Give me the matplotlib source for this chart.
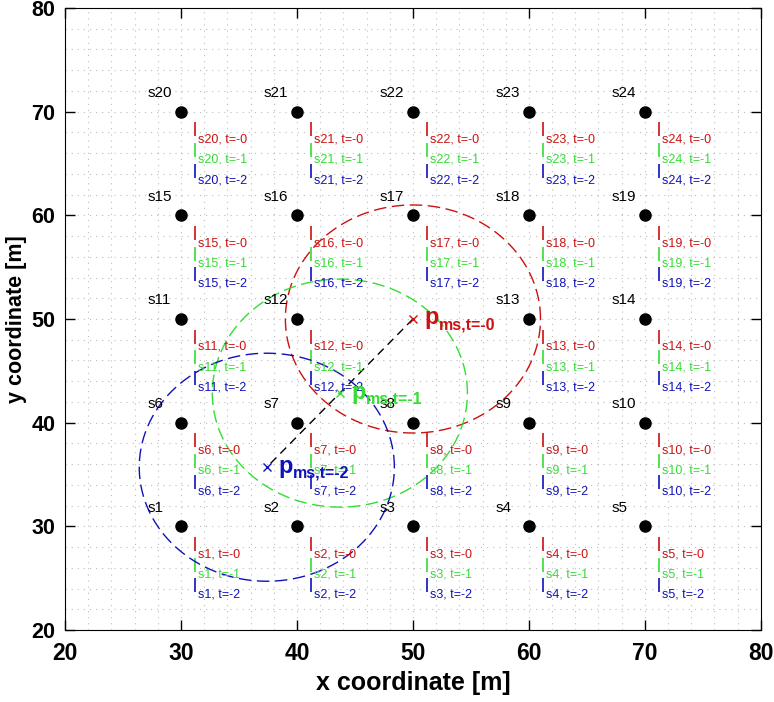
import matplotlib
matplotlib.use("Agg")
import matplotlib.pyplot as plt
import numpy as np

plt.rcParams['font.family'] = ['Liberation Sans', 'DejaVu Sans']

# Sensor data
sensor_names = ['s%d' % i for i in range(1, 25)]
sensor_x = [30, 40, 50, 60, 70,
            30, 40, 50, 60, 70,
            30, 40, 60, 70,
            30, 40, 50, 60, 70,
            30, 40, 50, 60, 70]
sensor_y = [30, 30, 30, 30, 30,
            40, 40, 40, 40, 40,
            50, 50, 50, 50,
            60, 60, 60, 60, 60,
            70, 70, 70, 70, 70]

# Estimated positions at time steps
time_steps = ['0', '1', '2']
est_x = [50.0, 43.7, 37.4]
est_y = [50.0, 42.85, 35.7]
est_radius = [11.0, 11.0, 11.0]
colors = ['#cc1111', '#33dd33', '#1111bb']

fig = plt.figure(figsize=(7.74, 7.02), dpi=100)
ax = fig.add_axes([0.084, 0.1026, 0.899, 0.886])

ax.set_xlim(20, 80)
ax.set_ylim(20, 80)
ax.set_xticks(np.arange(20, 81, 10))
ax.set_yticks(np.arange(20, 81, 10))
ax.set_xticks(np.arange(20, 81, 2), minor=True)
ax.set_yticks(np.arange(20, 81, 2), minor=True)
ax.grid(which='both', linestyle=(0, (1, 4.5)), color='#bcbcbc', linewidth=0.8)
ax.set_axisbelow(True)
ax.tick_params(which='major', direction='in', length=7, width=1, top=True, right=True)
ax.tick_params(axis='x', which='major', labelsize=16.5, pad=9)
ax.tick_params(axis='y', which='major', labelsize=15.5, pad=7)
ax.tick_params(which='minor', length=0)
for lab in ax.get_xticklabels() + ax.get_yticklabels():
    lab.set_fontweight('bold')

# Sensors
ax.plot(sensor_x, sensor_y, 'o', color='black', markersize=8, zorder=5)
for name, sx, sy in zip(sensor_names, sensor_x, sensor_y):
    ax.text(sx - 2.9, sy + 1.8, name, fontsize=11, ha='left', va='center', color='black')
    for k, (t, c) in enumerate(zip(time_steps, colors)):
        ax.plot([sx + 1.25], [sy - 1.7 - 2.0 * k], marker='|', color=c,
                markersize=10, markeredgewidth=1.2)
        ax.text(sx + 1.5, sy - 2.7 - 1.95 * k, '%s, t=-%s' % (name, t), fontsize=9,
                color=c, ha='left', va='center')

# Path line
ax.plot(est_x, est_y, linestyle=(0, (6, 4)), color='black', linewidth=1)

# Circles and estimates
theta = np.linspace(0, 2 * np.pi, 400)
for ex, ey, r, c, t in zip(est_x, est_y, est_radius, colors, time_steps):
    ax.plot(ex + r * np.cos(theta), ey + r * np.sin(theta), linestyle=(0, (9, 4)),
            color=c, linewidth=1)
    ax.plot([ex], [ey], marker='x', color=c, markersize=6, markeredgewidth=1)
    ax.text(ex + 1.0, ey + 0.1, 'p', color=c, fontsize=17, ha='left', va='center',
            fontweight='bold')
    ax.annotate('ms,t=-%s' % t, xy=(ex + 1.0, ey + 0.1), xytext=(10.5, -5),
                textcoords='offset points', color=c, fontsize=11.5, ha='left',
                va='center', fontweight='bold')

ax.set_xlabel('x coordinate [m]', fontsize=18, fontweight='bold', labelpad=4)
ax.set_ylabel('y coordinate [m]', fontsize=15.5, fontweight='bold', labelpad=3)

fig.savefig('out.png', dpi=100)
